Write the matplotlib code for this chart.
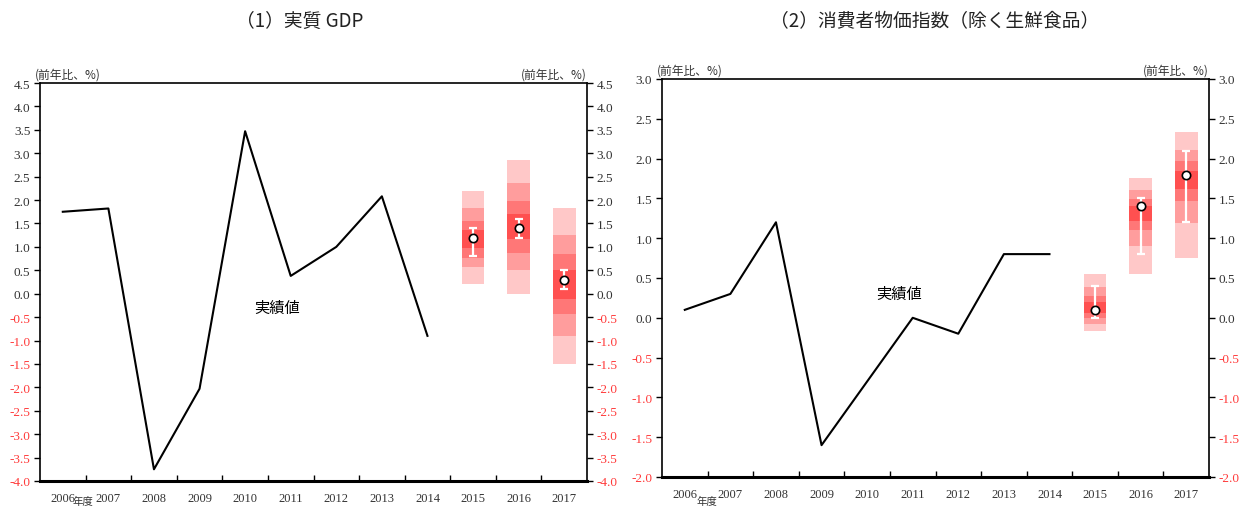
import matplotlib
matplotlib.use("Agg")
import matplotlib.pyplot as plt
import numpy as np

plt.rcParams['font.family'] = ['Liberation Serif', 'Noto Sans CJK JP', 'DejaVu Sans']

years = ['2006', '2007', '2008', '2009', '2010', '2011', '2012', '2013', '2014', '2015', '2016', '2017']
actual_years = years[:9]
proj_years = ['2015', '2016', '2017']

gdp_actual = [1.75, 1.82, -3.75, -2.03, 3.47, 0.38, 1.0, 2.08, -0.9]
gdp_fan = [
    [2.20, 1.82, 1.56, 1.36, 0.98, 0.76, 0.56, 0.21],
    [2.86, 2.36, 1.99, 1.70, 1.16, 0.86, 0.51, -0.01],
    [1.84, 1.25, 0.84, 0.50, -0.11, -0.44, -0.91, -1.50],
]
gdp_median = [1.2, 1.4, 0.3]
gdp_range_low = [0.8, 1.2, 0.1]
gdp_range_high = [1.4, 1.6, 0.5]

cpi_actual = [0.1, 0.3, 1.2, -1.6, -0.8, 0.0, -0.2, 0.8, 0.8]
cpi_fan = [
    [0.55, 0.39, 0.28, 0.20, 0.06, 0.00, -0.08, -0.16],
    [1.76, 1.61, 1.49, 1.41, 1.22, 1.10, 0.90, 0.55],
    [2.34, 2.11, 1.97, 1.85, 1.62, 1.47, 1.19, 0.75],
]
cpi_median = [0.1, 1.4, 1.8]
cpi_range_low = [0.0, 0.8, 1.2]
cpi_range_high = [0.4, 1.5, 2.1]

band_colors = ['#FFC8C8', '#FF9D9D', '#FF7777', '#FF5050', '#FF7777', '#FF9D9D', '#FFC8C8']

W, H = 1244, 510
fig = plt.figure(figsize=(W / 100, H / 100), dpi=100)

jp = ['Noto Sans CJK JP', 'DejaVu Sans']


def panel(rect, actual, fan, med, lo, hi, ylim, step, title, title_x):
    ax = fig.add_axes(rect)
    x_all = np.arange(len(years))
    xa = x_all[:len(actual_years)]
    xp = x_all[len(actual_years):]
    ax.plot(xa, actual, color='black', lw=1.5, zorder=3)
    for i, bounds in enumerate(fan):
        for j in range(len(bounds) - 1):
            ax.bar(xp[i], bounds[j] - bounds[j + 1], bottom=bounds[j + 1], width=0.5,
                   color=band_colors[j], edgecolor='none', zorder=2)
    ax.errorbar(xp, med, yerr=[np.array(med) - np.array(lo), np.array(hi) - np.array(med)],
                fmt='none', ecolor='white', elinewidth=1.6, capsize=3, capthick=1.6, zorder=4)
    ax.plot(xp, med, 'o', ms=6, mfc='white', mec='black', mew=1.2, zorder=5)

    ax.set_xlim(-0.5, len(years) - 0.5)
    ax.set_ylim(*ylim)
    ax.set_xticks(np.arange(0.5, len(years) - 1, 1.0))
    ax.set_xticklabels([])
    ax.set_xticks(x_all, minor=True)
    ax.set_xticklabels(years, minor=True, fontsize=9, color='#333333')
    ax.tick_params(axis='x', which='major', direction='in', length=4, width=1)
    ax.tick_params(axis='x', which='minor', length=0, pad=8)

    yt = np.arange(ylim[0], ylim[1] + step / 2, step)
    ax.set_yticks(yt)
    ax.set_yticklabels([f'{v:.1f}' for v in yt], fontsize=9.5)
    ax.tick_params(axis='y', which='both', left=True, right=True, labelleft=True, labelright=True,
                   direction='out', length=4, width=1, pad=3)
    for t, v in zip(ax.yaxis.get_major_ticks(), yt):
        c = '#FF3B3B' if v < 0 else '#333333'
        t.label1.set_color(c)
        t.label2.set_color(c)
    for s in ['left', 'right', 'top']:
        ax.spines[s].set_linewidth(1.2)
    ax.spines['bottom'].set_linewidth(2.2)

    ax.text(-0.01, 1.005, '(前年比、%)', transform=ax.transAxes, ha='left', va='bottom',
            fontsize=8.5, family=jp, color='#333333')
    ax.text(1.0, 1.005, '(前年比、%)', transform=ax.transAxes, ha='right', va='bottom',
            fontsize=8.5, family=jp, color='#333333')
    fig.text(title_x, 0.957, title, ha='center', va='center', fontsize=13.5, family=jp, color='#222222')
    return ax


ax1 = panel([40 / W, 1 - 482 / H, 547 / W, 398 / H], gdp_actual, gdp_fan, gdp_median,
            gdp_range_low, gdp_range_high, (-4.0, 4.5), 0.5, '（1）実質 GDP', 300 / W)
ax1.text(4.7, -0.3, '実績値', fontsize=11, family=jp, ha='center', va='center')
ax1.text(0.079, -0.05, '年度', transform=ax1.transAxes, fontsize=7.5, family=jp, va='center', ha='center',
         color='#333333')

ax2 = panel([662 / W, 1 - 478 / H, 547 / W, 398 / H], cpi_actual, cpi_fan, cpi_median,
            cpi_range_low, cpi_range_high, (-2.0, 3.0), 0.5, '（2）消費者物価指数（除く生鮮食品）', 935 / W)
ax2.text(4.7, 0.3, '実績値', fontsize=11, family=jp, ha='center', va='center')
ax2.text(0.082, -0.06, '年度', transform=ax2.transAxes, fontsize=7.5, family=jp, va='center', ha='center',
         color='#333333')

fig.savefig('out.png', dpi=100)
